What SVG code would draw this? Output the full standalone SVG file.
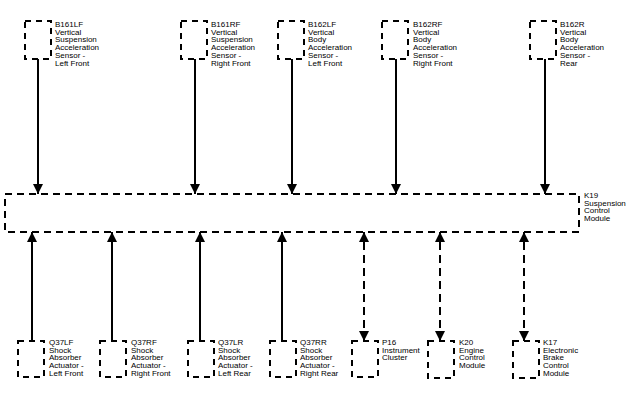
<svg xmlns="http://www.w3.org/2000/svg" width="636" height="401" viewBox="0 0 636 401">
<style>
.box{fill:none;stroke:#000;stroke-width:2;stroke-dasharray:6 5}
.main{fill:none;stroke:#000;stroke-width:2;stroke-dasharray:7 5}
.c{stroke:#000;stroke-width:2;fill:none}
.d{stroke-dasharray:8 5}
text{font-family:"Liberation Sans",Arial,sans-serif;font-size:8px;fill:#000}
</style>
<defs>
<marker id="ah" markerUnits="userSpaceOnUse" markerWidth="10" markerHeight="12" viewBox="0 0 10 12" refX="10" refY="6" orient="auto-start-reverse">
<path d="M0,1 L10,6 L0,11 Z" fill="#000"/>
</marker>
</defs>
<rect width="636" height="401" fill="#fff"/>
<g id="K19">
<rect class="main" x="5" y="194" width="574" height="38"/>
<text x="584" y="198">K19</text><text x="584" y="205.7">Suspension</text><text x="584" y="213.4">Control</text><text x="584" y="221.1">Module</text>
</g>
<g id="B161LF">
<rect class="box" x="25" y="21" width="26" height="38"/>
<text x="55" y="27">B161LF</text><text x="55" y="34.7">Vertical</text><text x="55" y="42.4">Suspension</text><text x="55" y="50.1">Acceleration</text><text x="55" y="57.8">Sensor -</text><text x="55" y="65.5">Left Front</text>
</g>
<g id="B161RF">
<rect class="box" x="181" y="21" width="26" height="38"/>
<text x="211" y="27">B161RF</text><text x="211" y="34.7">Vertical</text><text x="211" y="42.4">Suspension</text><text x="211" y="50.1">Acceleration</text><text x="211" y="57.8">Sensor -</text><text x="211" y="65.5">Right Front</text>
</g>
<g id="B162LF">
<rect class="box" x="278" y="21" width="26" height="38"/>
<text x="308" y="27">B162LF</text><text x="308" y="34.7">Vertical</text><text x="308" y="42.4">Body</text><text x="308" y="50.1">Acceleration</text><text x="308" y="57.8">Sensor -</text><text x="308" y="65.5">Left Front</text>
</g>
<g id="B162RF">
<rect class="box" x="382" y="21" width="26" height="38"/>
<text x="413" y="27">B162RF</text><text x="413" y="34.7">Vertical</text><text x="413" y="42.4">Body</text><text x="413" y="50.1">Acceleration</text><text x="413" y="57.8">Sensor -</text><text x="413" y="65.5">Right Front</text>
</g>
<g id="B162R">
<rect class="box" x="530" y="21" width="26" height="38"/>
<text x="560" y="27">B162R</text><text x="560" y="34.7">Vertical</text><text x="560" y="42.4">Body</text><text x="560" y="50.1">Acceleration</text><text x="560" y="57.8">Sensor -</text><text x="560" y="65.5">Rear</text>
</g>
<g id="Q37LF">
<rect class="box" x="18" y="341" width="26" height="36"/>
<text x="49" y="345">Q37LF</text><text x="49" y="352.7">Shock</text><text x="49" y="360.4">Absorber</text><text x="49" y="368.1">Actuator -</text><text x="49" y="375.8">Left Front</text>
</g>
<g id="Q37RF">
<rect class="box" x="100" y="341" width="26" height="36"/>
<text x="131" y="345">Q37RF</text><text x="131" y="352.7">Shock</text><text x="131" y="360.4">Absorber</text><text x="131" y="368.1">Actuator -</text><text x="131" y="375.8">Right Front</text>
</g>
<g id="Q37LR">
<rect class="box" x="188" y="341" width="26" height="36"/>
<text x="218" y="345">Q37LR</text><text x="218" y="352.7">Shock</text><text x="218" y="360.4">Absorber</text><text x="218" y="368.1">Actuator -</text><text x="218" y="375.8">Left Rear</text>
</g>
<g id="Q37RR">
<rect class="box" x="270" y="341" width="26" height="36"/>
<text x="300" y="345">Q37RR</text><text x="300" y="352.7">Shock</text><text x="300" y="360.4">Absorber</text><text x="300" y="368.1">Actuator -</text><text x="300" y="375.8">Right Rear</text>
</g>
<g id="P16">
<rect class="box" x="352" y="341" width="26" height="36"/>
<text x="382" y="345">P16</text><text x="382" y="352.7">Instrument</text><text x="382" y="360.4">Cluster</text>
</g>
<g id="K20">
<rect class="box" x="428" y="341" width="26" height="37"/>
<text x="459" y="345">K20</text><text x="459" y="352.7">Engine</text><text x="459" y="360.4">Control</text><text x="459" y="368.1">Module</text>
</g>
<g id="K17">
<rect class="box" x="513" y="341" width="26" height="37"/>
<text x="543" y="345">K17</text><text x="543" y="352.7">Electronic</text><text x="543" y="360.4">Brake</text><text x="543" y="368.1">Control</text><text x="543" y="375.8">Module</text>
</g>
<g id="connectors">
<line class="c" x1="38" y1="59" x2="38" y2="194" marker-end="url(#ah)"/>
<line class="c" x1="195" y1="59" x2="195" y2="194" marker-end="url(#ah)"/>
<line class="c" x1="292" y1="59" x2="292" y2="194" marker-end="url(#ah)"/>
<line class="c" x1="396" y1="59" x2="396" y2="194" marker-end="url(#ah)"/>
<line class="c" x1="545" y1="59" x2="545" y2="194" marker-end="url(#ah)"/>
<line class="c" x1="32" y1="341" x2="32" y2="232" marker-end="url(#ah)"/>
<line class="c" x1="112" y1="341" x2="112" y2="232" marker-end="url(#ah)"/>
<line class="c" x1="200" y1="341" x2="200" y2="232" marker-end="url(#ah)"/>
<line class="c" x1="282" y1="341" x2="282" y2="232" marker-end="url(#ah)"/>
<line class="c d" x1="364" y1="341" x2="364" y2="232" marker-start="url(#ah)" marker-end="url(#ah)"/>
<line class="c d" x1="440" y1="341" x2="440" y2="232" marker-start="url(#ah)" marker-end="url(#ah)"/>
<line class="c d" x1="524" y1="341" x2="524" y2="232" marker-start="url(#ah)" marker-end="url(#ah)"/>
</g>
</svg>
